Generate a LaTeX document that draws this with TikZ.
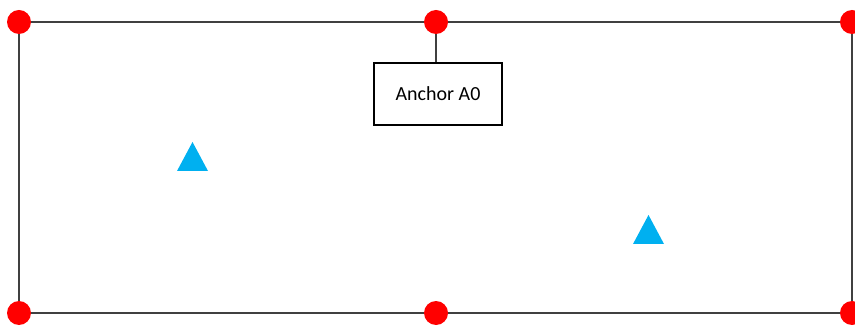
\documentclass[tikz,border=0pt]{standalone}
\usepackage{fontspec}
\setmainfont{Carlito}
\definecolor{framegray}{HTML}{404040}
\definecolor{anchorred}{HTML}{FF0000}
\definecolor{tagblue}{HTML}{00B0F0}
\begin{document}
\begin{tikzpicture}[x=0.75pt,y=-0.75pt,
  frame/.style={draw=framegray,line width=1.1pt},
  anchordot/.style={circle,fill=anchorred,minimum size=18pt,inner sep=0pt},
  labelbox/.style={draw=black,line width=1.3pt,fill=white,minimum width=96pt,minimum height=46pt,inner sep=0pt,font=\fontsize{15}{18}\selectfont},
  tag/.style={fill=tagblue,draw=none}]
\useasboundingbox (0,0) rectangle (855,327);
% room outline
\coordinate (c1) at (19,22);
\coordinate (c2) at (852,22);
\coordinate (c3) at (852,313);
\coordinate (c4) at (19,313);
\coordinate (m1) at (436,22);
\coordinate (m2) at (436,313);
\draw[frame] (c1) -- (c2) -- (c3) -- (c4) -- cycle;
% label box hanging from the top anchor
\node[labelbox] (lab) at (438,94) {\raisebox{-1.5pt}{Anchor A0}};
\draw[frame] (m1) -- (lab.north -| m1);
% anchors
\foreach \p in {c1,c2,c3,c4,m1,m2} \node[anchordot] at (\p) {};
% tags
\fill[tag] (177,171) -- (208,171) -- (192.5,142) -- cycle;
\fill[tag] (633,244) -- (664,244) -- (648.5,215) -- cycle;
\end{tikzpicture}
\end{document}
